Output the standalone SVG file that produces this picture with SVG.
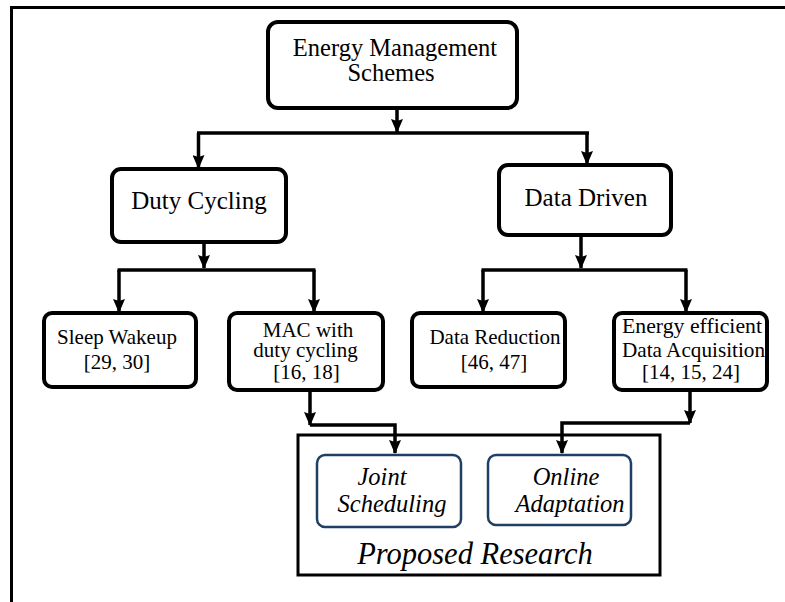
<svg xmlns="http://www.w3.org/2000/svg" width="785" height="602" viewBox="0 0 785 602">
<style>
.box{fill:#fff;stroke:#000;stroke-width:4}
.inner{fill:#fff;stroke:#1f3f66;stroke-width:2.5}
.t{font-family:'Liberation Serif','Times New Roman','DejaVu Serif',serif;fill:#000;text-anchor:middle}
.it{font-family:'Liberation Serif','Times New Roman','DejaVu Serif',serif;font-style:italic;fill:#000;text-anchor:middle}
.c{fill:none;stroke:#000;stroke-width:3.5}
</style>
<defs>
<marker id="dn" markerUnits="userSpaceOnUse" markerWidth="12" markerHeight="14" viewBox="0 0 12 14" refX="6" refY="13" orient="0">
<path d="M0,0 L6,2 L12,0 L6,14 Z" fill="#000"/>
</marker>
</defs>
<g id="frame">
<line x1="10" y1="7.5" x2="785" y2="7.5" stroke="#000" stroke-width="3"/>
<line x1="11.5" y1="6" x2="11.5" y2="602" stroke="#000" stroke-width="3"/>
</g>
<g id="n-ems">
<rect class="box" x="268" y="22" width="249" height="86" rx="10"/>
<text class="t" x="395" y="56" font-size="24.5">Energy Management</text>
<text class="t" x="391" y="81" font-size="24.5">Schemes</text>
</g>
<g id="n-duty">
<rect class="box" x="112" y="169" width="174" height="73" rx="9"/>
<text class="t" x="199" y="209" font-size="25">Duty Cycling</text>
</g>
<g id="n-data">
<rect class="box" x="499" y="165" width="172" height="70" rx="9"/>
<text class="t" x="586" y="206" font-size="25">Data Driven</text>
</g>
<g id="n-sleep">
<rect class="box" x="44" y="313" width="152" height="74" rx="8"/>
<text class="t" x="117" y="344" font-size="21">Sleep Wakeup</text>
<text class="t" x="117" y="369" font-size="21">[29, 30]</text>
</g>
<g id="n-mac">
<rect class="box" x="229" y="313" width="154" height="77" rx="8"/>
<text class="t" x="308" y="337" font-size="21">MAC with</text>
<text class="t" x="305.5" y="357" font-size="21">duty cycling</text>
<text class="t" x="306.5" y="379" font-size="21">[16, 18]</text>
</g>
<g id="n-reduction">
<rect class="box" x="412" y="313" width="153" height="74" rx="8"/>
<text class="t" x="495" y="344" font-size="21">Data Reduction</text>
<text class="t" x="494" y="369" font-size="21">[46, 47]</text>
</g>
<g id="n-acq">
<rect class="box" x="614" y="313" width="153" height="77" rx="8"/>
<text class="t" x="692" y="333" font-size="21" textLength="140" lengthAdjust="spacingAndGlyphs">Energy efficient</text>
<text class="t" x="693.5" y="357" font-size="21" textLength="143" lengthAdjust="spacingAndGlyphs">Data Acquisition</text>
<text class="t" x="691" y="379" font-size="21">[14, 15, 24]</text>
</g>
<g id="n-proposed">
<rect x="298" y="435" width="362" height="140" fill="#fff" stroke="#000" stroke-width="3"/>
<text class="it" x="475" y="564" font-size="30.5">Proposed Research</text>
</g>
<g id="n-joint">
<rect class="inner" x="317" y="455" width="144" height="72" rx="8"/>
<text class="it" x="382" y="485" font-size="24.5">Joint</text>
<text class="it" x="392" y="512" font-size="24.5">Scheduling</text>
</g>
<g id="n-online">
<rect class="inner" x="488" y="455" width="143" height="70" rx="8"/>
<text class="it" x="566" y="485" font-size="24.5">Online</text>
<text class="it" x="570" y="512" font-size="24.5">Adaptation</text>
</g>
<g id="connectors">
<line class="c" x1="397" y1="108" x2="397" y2="132" marker-end="url(#dn)"/>
<line class="c" x1="197" y1="133" x2="589" y2="133" stroke-width="4.5"/>
<line class="c" x1="198.5" y1="133" x2="198.5" y2="168" marker-end="url(#dn)"/>
<line class="c" x1="587" y1="133" x2="587" y2="164" marker-end="url(#dn)"/>
<line class="c" x1="204" y1="242" x2="204" y2="268" marker-end="url(#dn)"/>
<line class="c" x1="117.5" y1="270" x2="315.5" y2="270"/>
<line class="c" x1="119" y1="270" x2="119" y2="312" marker-end="url(#dn)"/>
<line class="c" x1="314" y1="270" x2="314" y2="312" marker-end="url(#dn)"/>
<line class="c" x1="581" y1="235" x2="581" y2="268" marker-end="url(#dn)"/>
<line class="c" x1="481.5" y1="270" x2="687.5" y2="270"/>
<line class="c" x1="483" y1="270" x2="483" y2="312" marker-end="url(#dn)"/>
<line class="c" x1="686" y1="270" x2="686" y2="312" marker-end="url(#dn)"/>
<line class="c" x1="310" y1="390" x2="310" y2="425" marker-end="url(#dn)"/>
<polyline class="c" points="310,425 395,425 395,453" marker-end="url(#dn)"/>
<line class="c" x1="690" y1="390" x2="690" y2="423" marker-end="url(#dn)"/>
<polyline class="c" points="690,423 562,423 562,453" marker-end="url(#dn)"/>
</g>
</svg>
